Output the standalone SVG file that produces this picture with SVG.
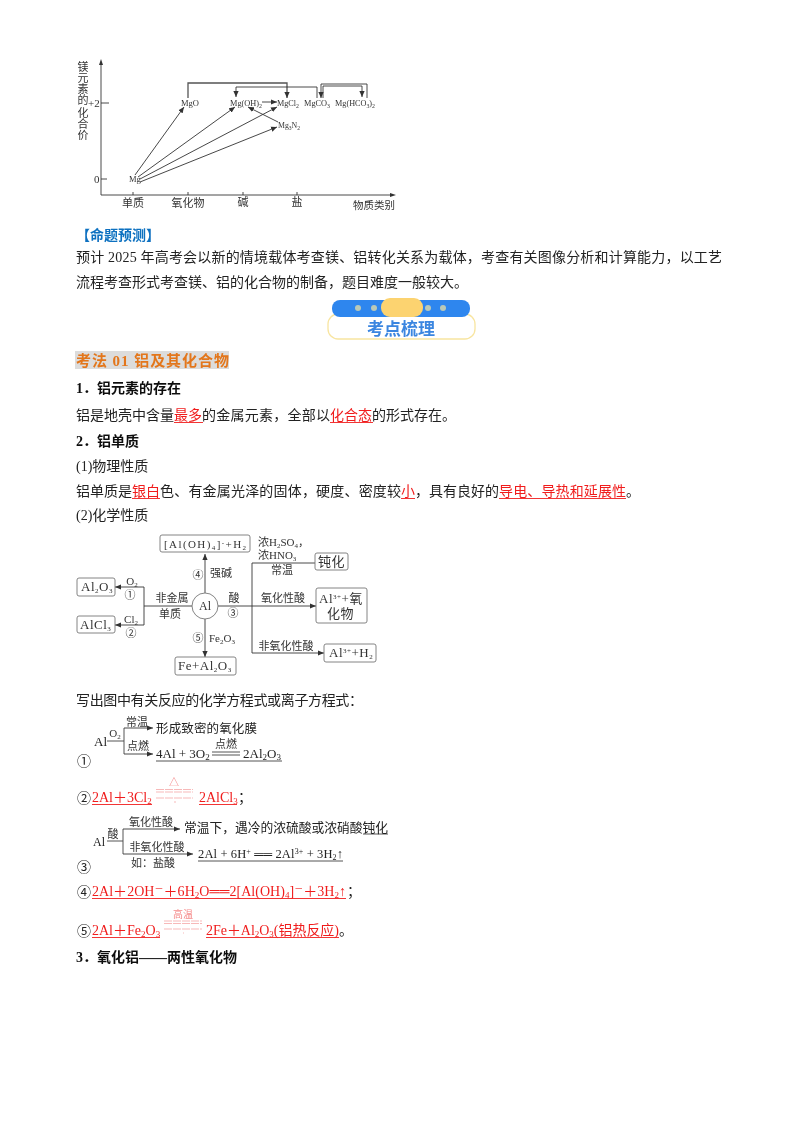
<svg xmlns="http://www.w3.org/2000/svg" width="800" height="1134" viewBox="0 0 800 1134">
<style>
text{font-family:"Liberation Serif","Noto Sans CJK SC",serif;fill:#222;font-size:14px}
.b{font-weight:700;fill:#111}
.r{fill:#f01c1c}
.m{text-anchor:middle}
.d{font-size:11px;fill:#333}
.s{font-size:8.5px;fill:#333}
.n{font-size:13px;fill:#333;letter-spacing:.5px}
.o{font-family:"Noto Sans CJK SC",sans-serif}
.cn{fill:none;stroke:#333;stroke-width:.9}
.box{fill:#fff;stroke:#777;stroke-width:.9}
.u{stroke:#f01c1c;stroke-width:.9;fill:none}
.k{stroke:#444;stroke-width:.9;fill:none}
.p{stroke:#f7b9b9;stroke-width:1;fill:none}
</style>
<defs>
<marker id="a" markerUnits="userSpaceOnUse" markerWidth="7" markerHeight="6" refX="6" refY="3" orient="auto"><path d="M0 .4L6 3L0 5.6Z" fill="#333"/></marker>
<filter id="f" x="-5%" y="-5%" width="110%" height="110%"><feGaussianBlur stdDeviation=".4"/></filter>
<filter id="g" x="-2%" y="-5%" width="104%" height="110%"><feGaussianBlur stdDeviation=".2"/></filter>
</defs>
<rect width="800" height="1134" fill="#fff"/>

<g id="chart" filter="url(#f)">
<g id="chart-connectors">
<path class="cn" d="M101 195V62M101 195H393" />
<path d="M101 59l-2 6h4zM396 195l-6-2v4z" fill="#333"/>
<path class="cn" d="M101 103H109M101 179H107M133 192V195M188 192V195M243 192V195M297 192V195"/>
<path class="cn" marker-end="url(#a)" d="M135 175L184 107"/>
<path class="cn" marker-end="url(#a)" d="M138 177L235 107"/>
<path class="cn" marker-end="url(#a)" d="M140 179L277 107"/>
<path class="cn" marker-end="url(#a)" d="M140 182L277 127"/>
<path class="cn" marker-end="url(#a)" d="M262 102H277"/>
<path class="cn" marker-end="url(#a)" d="M278 122L248 107"/>
<path d="M188 98V83H287V98" fill="none" stroke="#555" stroke-width="1.3" marker-end="url(#a)"/>
<path class="cn" marker-end="url(#a)" d="M317 98V87H236V97"/>
<path class="cn" marker-end="url(#a)" d="M367 98V84H321V98"/>
<path class="cn" marker-end="url(#a)" d="M323 98V86H362V97"/>
</g>
<g id="chart-labels">
<text class="d m" x="83" y="71">镁</text><text class="d m" x="83" y="82">元</text><text class="d m" x="83" y="93">素</text><text class="d m" x="83" y="104">的</text><text class="d m" x="83" y="117">化</text><text class="d m" x="83" y="128">合</text><text class="d m" x="83" y="139">价</text>
<text class="d" x="88" y="107">+2</text><text class="d" x="94" y="183">0</text>
<text class="s" x="181" y="106">MgO</text>
<text class="s" x="230" y="106" textLength="32" lengthAdjust="spacingAndGlyphs">Mg(OH)<tspan font-size="6" dy="2">2</tspan></text>
<text class="s" x="277" y="106" textLength="22" lengthAdjust="spacingAndGlyphs">MgCl<tspan font-size="6" dy="2">2</tspan></text>
<text class="s" x="304" y="106" textLength="26" lengthAdjust="spacingAndGlyphs">MgCO<tspan font-size="6" dy="2">3</tspan></text>
<text class="s" x="335" y="106" textLength="40" lengthAdjust="spacingAndGlyphs">Mg(HCO<tspan font-size="6" dy="2">3</tspan><tspan dy="-2">)</tspan><tspan font-size="6" dy="2">2</tspan></text>
<text class="s" x="278" y="128" textLength="22" lengthAdjust="spacingAndGlyphs">Mg<tspan font-size="6" dy="2">3</tspan><tspan dy="-2">N</tspan><tspan font-size="6" dy="2">2</tspan></text>
<text class="s" x="129" y="182">Mg</text>
<text class="d m" x="133" y="207">单质</text><text class="d m" x="188" y="207">氧化物</text><text class="d m" x="243" y="206">碱</text><text class="d m" x="297" y="206">盐</text><text class="d m" x="374" y="209" style="font-size:10.5px">物质类别</text>
</g>
</g>

<g id="prediction" filter="url(#g)">
<text x="76" y="240" class="b" style="fill:#0a70c0">【命题预测】</text>
<text x="76" y="262" textLength="646" lengthAdjust="spacing">预计 2025 年高考会以新的情境载体考查镁、铝转化关系为载体，考查有关图像分析和计算能力，以工艺</text>
<text x="76" y="287">流程考查形式考查镁、铝的化合物的制备，题目难度一般较大。</text>
</g>

<g id="badge" filter="url(#g)">
<rect x="328" y="314" width="147" height="25" rx="10" fill="#fff" stroke="#f8e5a0" stroke-width="1.3"/>
<rect x="332" y="300" width="138" height="17" rx="8" fill="#2f86ee"/>
<rect x="381" y="298" width="42" height="19" rx="9" fill="#fcd36f"/>
<g fill="#b9c9b8"><circle cx="358" cy="308" r="3"/><circle cx="374" cy="308" r="3"/><circle cx="428" cy="308" r="3"/><circle cx="443" cy="308" r="3"/></g>
<text x="401" y="335" class="m b" style="font-size:17px;fill:#3b86e0">考点梳理</text>
</g>

<g id="body" filter="url(#g)">
<rect x="75" y="351" width="154" height="18" fill="#dcdcdc"/>
<text x="76" y="366" class="b" textLength="153" lengthAdjust="spacing" style="font-size:15px;fill:#e3761a">考法 01 铝及其化合物</text>
<text x="76" y="393" class="b">1．铝元素的存在</text>
<text x="76" y="420">铝是地壳中含量</text><text x="174" y="420" class="r">最多</text><text x="202" y="420" textLength="128" lengthAdjust="spacing">的金属元素，全部以</text><text x="330" y="420" class="r">化合态</text><text x="372" y="420">的形式存在。</text>
<path class="u" d="M174 422.5H203M330 422.5H373"/>
<text x="76" y="446" class="b">2．铝单质</text>
<text x="76" y="471">(1)物理性质</text>
<text x="76" y="496">铝单质是</text><text x="132" y="496" class="r">银白</text><text x="160" y="496" textLength="241" lengthAdjust="spacing">色、有金属光泽的固体，硬度、密度较</text><text x="401" y="496" class="r">小</text><text x="415" y="496" textLength="84" lengthAdjust="spacing">，具有良好的</text><text x="499" y="496" class="r" textLength="127" lengthAdjust="spacing">导电、导热和延展性</text><text x="626" y="496">。</text>
<path class="u" d="M132 498.5H160M401 498.5H415M499 498.5H626"/>
<text x="76" y="520">(2)化学性质</text>
<text x="76" y="705" textLength="287" lengthAdjust="spacing">写出图中有关反应的化学方程式或离子方程式：</text>
</g>

<g id="al-diagram" filter="url(#f)">
<g id="connectors">
<path class="cn" marker-end="url(#a)" d="M205 593V554"/>
<path class="cn" marker-end="url(#a)" d="M205 619V657"/>
<path class="cn" d="M192 606H144M144 587V625"/>
<path class="cn" marker-end="url(#a)" d="M144 587H115"/>
<path class="cn" marker-end="url(#a)" d="M144 625H115"/>
<path class="cn" marker-end="url(#a)" d="M218 606H316"/>
<path class="cn" marker-end="url(#a)" d="M315 563H252V653H324"/>
</g>
<g id="node-al"><circle class="box" cx="205" cy="606" r="13"/><text class="d m" x="205" y="610" style="font-size:12px">Al</text></g>
<g id="node-aloh"><rect class="box" x="160" y="535" width="90" height="17" rx="2"/><text class="d" x="164" y="548" textLength="82" lengthAdjust="spacing">[Al(OH)<tspan font-size="7" dy="2">4</tspan><tspan dy="-2">]</tspan><tspan font-size="7" dy="-3">-</tspan><tspan dy="3">+H</tspan><tspan font-size="7" dy="2">2</tspan></text></g>
<g id="node-dunhua"><rect class="box" x="315" y="553" width="33" height="17" rx="2"/><text class="n m" x="331.5" y="566">钝化</text></g>
<g id="node-al3ox"><rect class="box" x="316" y="588" width="51" height="35" rx="2"/><text class="n" x="319" y="603">Al<tspan font-size="7" dy="-4">3+</tspan><tspan dy="4">+氧</tspan></text><text class="n" x="327" y="618">化物</text></g>
<g id="node-al3h"><rect class="box" x="324" y="644" width="52" height="18" rx="2"/><text class="n" x="329" y="657">Al<tspan font-size="7" dy="-4">3+</tspan><tspan dy="4">+H</tspan><tspan font-size="7" dy="2">2</tspan></text></g>
<g id="node-al2o3"><rect class="box" x="77" y="578" width="38" height="18" rx="2"/><text class="n" x="81" y="591">Al<tspan font-size="7" dy="2">2</tspan><tspan dy="-2">O</tspan><tspan font-size="7" dy="2">3</tspan></text></g>
<g id="node-alcl3"><rect class="box" x="77" y="616" width="38" height="17" rx="2"/><text class="n" x="80" y="629">AlCl<tspan font-size="7" dy="2">3</tspan></text></g>
<g id="node-fe"><rect class="box" x="175" y="657" width="61" height="18" rx="2"/><text class="n" x="178" y="670">Fe+Al<tspan font-size="7" dy="2">2</tspan><tspan dy="-2">O</tspan><tspan font-size="7" dy="2">3</tspan></text></g>
<g id="al-labels">
<text class="d m" x="132" y="585">O<tspan font-size="7" dy="2">2</tspan></text>
<text class="d m o" x="130" y="599">①</text>
<text class="d m" x="172" y="602">非金属</text>
<text class="d m" x="170" y="618">单质</text>
<text class="d m" x="131" y="623">Cl<tspan font-size="7" dy="2">2</tspan></text>
<text class="d m o" x="131" y="637">②</text>
<text class="d m o" x="198" y="579">④</text>
<text class="d m" x="221" y="577">强碱</text>
<text class="d m" x="234" y="602">酸</text>
<text class="d m o" x="233" y="617">③</text>
<text class="d m o" x="198" y="642">⑤</text>
<text class="d" x="209" y="642">Fe<tspan font-size="7" dy="2">2</tspan><tspan dy="-2">O</tspan><tspan font-size="7" dy="2">3</tspan></text>
<text class="d" x="258" y="546">浓H<tspan font-size="7" dy="2">2</tspan><tspan dy="-2">SO</tspan><tspan font-size="7" dy="2">4</tspan><tspan dy="-2">，</tspan></text>
<text class="d" x="258" y="559">浓HNO<tspan font-size="7" dy="2">3</tspan></text>
<text class="d m" x="282" y="574">常温</text>
<text class="d m" x="283" y="602">氧化性酸</text>
<text class="d m" x="286" y="650">非氧化性酸</text>
</g>
</g>

<g id="eq1" filter="url(#f)">
<path class="k" d="M107 741H124M124 728V754"/>
<path class="cn" marker-end="url(#a)" d="M124 728H153"/>
<path class="cn" marker-end="url(#a)" d="M124 754H153"/>
<path class="k" d="M212 752H240M212 755H240M156 761H282"/>
<text x="94" y="746" style="font-size:13px">Al</text>
<text class="d m" x="115" y="737">O<tspan font-size="7" dy="2">2</tspan></text>
<text class="d m" x="137" y="726">常温</text>
<text class="d m" x="138" y="750">点燃</text>
<text x="156" y="733" textLength="101" lengthAdjust="spacing" style="font-size:12.5px">形成致密的氧化膜</text>
<text x="156" y="758" style="font-size:13px">4Al + 3O<tspan font-size="9" dy="2">2</tspan></text>
<text class="d m" x="226" y="748">点燃</text>
<text x="243" y="758" style="font-size:13px">2Al<tspan font-size="9" dy="2">2</tspan><tspan dy="-2">O</tspan><tspan font-size="9" dy="2">3</tspan></text>
<text class="m o" x="84" y="766">①</text>
</g>

<g id="eq2" filter="url(#g)">
<text class="m o" x="84" y="803">②</text>
<text class="r" x="92" y="802">2Al＋3Cl<tspan font-size="9" dy="2">2</tspan></text>
<path class="u" d="M92 804.5H152M199 804.5H237"/>
<text class="m" x="174" y="786" style="font-size:10px;fill:#f58a8a">△</text>
<path class="p" stroke-dasharray="8 1" d="M156 789.5H193M156 792H193M156 798H193"/>
<path class="p" d="M174 802H176"/>
<text class="r" x="199" y="802">2AlCl<tspan font-size="9" dy="2">3</tspan></text>
<text x="238" y="802">；</text>
</g>

<g id="eq3" filter="url(#f)">
<path class="k" d="M107 841H123M123 829V854"/>
<path class="cn" marker-end="url(#a)" d="M123 829H180"/>
<path class="cn" marker-end="url(#a)" d="M123 854H193"/>
<path class="k" d="M363 834H388M198 861H343"/>
<text x="93" y="846" style="font-size:12px">Al</text>
<text class="d m" x="113" y="838">酸</text>
<text class="d m" x="151" y="826">氧化性酸</text>
<text class="d m" x="157" y="851">非氧化性酸</text>
<text class="d m" x="153" y="867">如：盐酸</text>
<text x="184" y="832" style="font-size:12.75px">常温下，遇冷的浓硫酸或浓硝酸钝化</text>
<text x="198" y="858" textLength="145" lengthAdjust="spacing" style="font-size:12.5px">2Al + 6H<tspan font-size="8" dy="-4">+</tspan><tspan dy="4"> ══ 2Al</tspan><tspan font-size="8" dy="-4">3+</tspan><tspan dy="4"> + 3H</tspan><tspan font-size="8" dy="2">2</tspan><tspan dy="-2">↑</tspan></text>
<text class="m o" x="84" y="872">③</text>
</g>

<g id="eq4" filter="url(#g)">
<text class="m o" x="84" y="897">④</text>
<text class="r" x="92" y="896" textLength="254" lengthAdjust="spacing">2Al＋2OH<tspan font-size="9" dy="-4">－</tspan><tspan dy="4">＋6H</tspan><tspan font-size="9" dy="2">2</tspan><tspan dy="-2">O══2[Al(OH)</tspan><tspan font-size="9" dy="2">4</tspan><tspan dy="-2">]</tspan><tspan font-size="9" dy="-4">－</tspan><tspan dy="4">＋3H</tspan><tspan font-size="9" dy="2">2</tspan><tspan dy="-2">↑</tspan></text>
<path class="u" d="M92 898.5H346"/>
<text x="347" y="896">；</text>
</g>

<g id="eq5" filter="url(#g)">
<text class="m o" x="84" y="936">⑤</text>
<text class="r" x="92" y="935">2Al＋Fe<tspan font-size="9" dy="2">2</tspan><tspan dy="-2">O</tspan><tspan font-size="9" dy="2">3</tspan></text>
<text class="m" x="183" y="918" style="font-size:10px;fill:#f58a8a">高温</text>
<path class="p" stroke-dasharray="8 1" d="M164 921H202M164 923.5H202M164 929H202"/>
<path class="p" d="M183 933H184"/>
<text class="r" x="206" y="935" textLength="133" lengthAdjust="spacing">2Fe＋Al<tspan font-size="9" dy="2">2</tspan><tspan dy="-2">O</tspan><tspan font-size="9" dy="2">3</tspan><tspan dy="-2">(铝热反应)</tspan></text>
<path class="u" d="M92 937.5H160M206 937.5H339"/>
<text x="339" y="935">。</text>
<text x="76" y="962" class="b">3．氧化铝——两性氧化物</text>
</g>
</svg>
